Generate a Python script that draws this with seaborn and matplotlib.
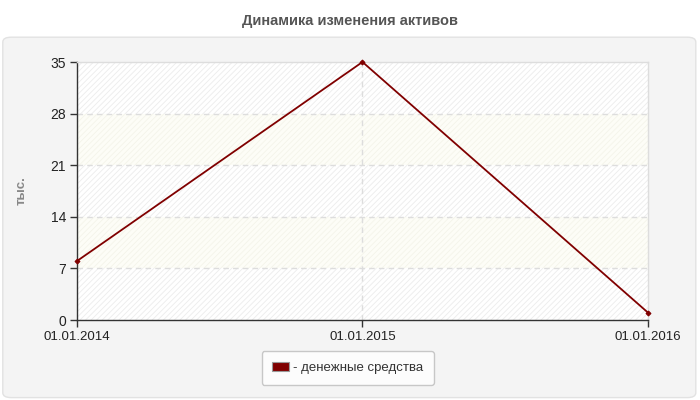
import pandas as pd
import matplotlib.pyplot as plt
import seaborn as sns
from matplotlib.patches import FancyBboxPatch, Patch

dates = ['2014-01-01', '2015-01-01', '2016-01-01']
date_labels = ['01.01.2014', '01.01.2015', '01.01.2016']
cash = [8, 35, 1]
y_ticks = [0, 7, 14, 21, 28, 35]
series_name = 'денежные средства'

df = pd.DataFrame({'date': pd.to_datetime(dates), 'value': cash})

sns.set_style('white')
plt.rcParams['font.family'] = ['Liberation Sans', 'DejaVu Sans']
plt.rcParams['hatch.linewidth'] = 0.6

fig = plt.figure(figsize=(7, 4), dpi=100)
fig.patch.set_facecolor('white')

# grey rounded panel behind the chart
panel = FancyBboxPatch((0.004, 0.006), 0.99, 0.901,
                       boxstyle='round,pad=0,rounding_size=0.012',
                       transform=fig.transFigure, facecolor='#f4f4f4',
                       edgecolor='#e2e2e2', linewidth=1, zorder=-5)
fig.patches.append(panel)

fig.text(0.5, 0.948, 'Динамика изменения активов', ha='center', va='center',
         fontsize=10.5, fontweight='bold', color='#555555')

ax = fig.add_axes([0.11, 0.2, 0.8157, 0.645])
ax.set_zorder(2)
ax.set_facecolor('white')

# alternating bands
for i in range(len(y_ticks) - 1):
    lo, hi = y_ticks[i], y_ticks[i + 1]
    if i % 2 == 0:
        ax.axhspan(lo, hi, facecolor='white', edgecolor='#ececec',
                   hatch='//////', linewidth=0, zorder=0)
    else:
        ax.axhspan(lo, hi, facecolor='#fdfdf7', edgecolor='#f4f4ea',
                   hatch='//////', linewidth=0, zorder=0)

sns.lineplot(data=df, x='date', y='value', color='#800000', linewidth=1.3,
             marker='D', markersize=2.5, markeredgecolor='#800000', ax=ax,
             zorder=3, clip_on=False)

ax.set_xlim(df['date'].iloc[0], df['date'].iloc[-1])
ax.set_ylim(0, 35)
ax.set_xticks(df['date'])
ax.set_xticklabels(date_labels)
ax.set_yticks(y_ticks)
ax.tick_params(axis='both', direction='out', length=5, width=1,
               color='#333333', labelsize=9.5, labelcolor='#222222', pad=3,
               left=True, bottom=True)
ax.tick_params(axis='y', labelsize=10)

for y in y_ticks[1:-1]:
    ax.axhline(y, color='#dddddd', linestyle=(0, (4, 3)), linewidth=1, zorder=1)
ax.axvline(df['date'].iloc[1], color='#dddddd', linestyle=(0, (4, 3)),
           linewidth=1, zorder=1)

ax.spines['top'].set_color('#dddddd')
ax.spines['right'].set_color('#dddddd')
ax.spines['left'].set_color('#333333')
ax.spines['bottom'].set_color('#333333')
for s in ax.spines.values():
    s.set_linewidth(1)

ax.set_xlabel('')
ax.set_ylabel('тыс.', fontsize=9.5, fontweight='bold', color='#888888',
              labelpad=16)

handle = Patch(facecolor='#800000', edgecolor='#999999', linewidth=0.8)
leg = fig.legend([handle], ['- ' + series_name], loc='center',
                 bbox_to_anchor=(0.497, 0.08), frameon=True, fontsize=9.5,
                 handlelength=1.3, handleheight=0.7, handletextpad=0.3,
                 borderpad=0.8, fancybox=True)
leg.set_zorder(3)
leg.get_frame().set_edgecolor('#bbbbbb')
leg.get_frame().set_facecolor('white')
for t in leg.get_texts():
    t.set_color('#333333')

fig.savefig('out.png', dpi=100)
